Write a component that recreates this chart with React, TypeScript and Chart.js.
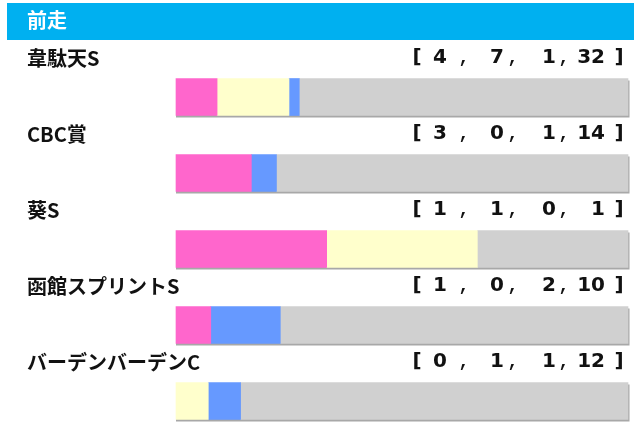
import { useEffect, useRef } from "react"
import Chart from "chart.js/auto"

// 前走レース別成績 [1着, 2着, 3着, 着外]
const races = ["韋駄天S", "CBC賞", "葵S", "函館スプリントS", "バーデンバーデンC"]
const firsts = [4, 3, 1, 1, 0]
const seconds = [7, 0, 1, 0, 1]
const thirds = [1, 1, 0, 2, 1]
const others = [32, 14, 1, 10, 12]
const title = "前走"

const colors = ["#FF66CC", "#FFFFCC", "#6699FF", "#D0D0D0"]
const seriesNames = ["1着", "2着", "3着", "着外"]

const totals = races.map((_, i) => firsts[i] + seconds[i] + thirds[i] + others[i])
// zero counts -> null so no hairline bar gets drawn
const pct = (arr: number[]) => arr.map((v, i) => (v ? (v / totals[i]) * 100 : null))

const labelPlugin = {
  id: "raceLabels",
  beforeDatasetsDraw(chart: any) {
    const { ctx, scales } = chart
    const x = scales.x
    ctx.save()
    // header band
    ctx.fillStyle = "#00B0F0"
    ctx.fillRect(7, 3, 627, 37)
    ctx.fillStyle = "#FFFFFF"
    ctx.font = "bold 20px 'Noto Sans CJK JP'"
    ctx.textBaseline = "middle"
    ctx.textAlign = "left"
    ctx.fillText(title, 27, 20)

    // bar shadows
    const meta = chart.getDatasetMeta(3)
    meta.data.forEach((bar: any) => {
      const h = bar.height
      ctx.fillStyle = "#A8A8A8"
      ctx.fillRect(x.left, bar.y - h / 2 + 2, x.right - x.left + 1.5, h)
    })

    races.forEach((name, i) => {
      const cy = scales.y.getPixelForValue(i)
      ctx.fillStyle = "#111111"
      ctx.textBaseline = "alphabetic"
      ctx.textAlign = "left"
      ctx.font = "bold 20px 'Noto Sans CJK JP'"
      ctx.fillText(name, 27, cy - 31)

      const vals = [firsts[i], seconds[i], thirds[i], others[i]]
      const by = cy - 34
      ctx.font = "bold 20px 'DejaVu Sans'"
      ctx.textAlign = "center"
      ctx.fillText("[", 417, by)
      ctx.fillText("]", 619, by)
      ctx.font = "bold 18px 'Liberation Mono'"
      ;[464, 513, 564].forEach((cx) => ctx.fillText(",", cx, by))
      ctx.font = "bold 20px 'DejaVu Sans'"
      ctx.textAlign = "right"
      ;[447, 504, 556, 605].forEach((rx, k) => ctx.fillText(String(vals[k]), rx, by))
    })
    ctx.restore()
  },
}

export default function App() {
  const chartRef = useRef<HTMLCanvasElement>(null)
  const chartInstance = useRef<Chart | null>(null)

  useEffect(() => {
    if (!chartRef.current) return
    if (chartInstance.current) chartInstance.current.destroy()
    const ctx = chartRef.current.getContext("2d")
    if (!ctx) return

    const series = [firsts, seconds, thirds, others]
    chartInstance.current = new Chart(ctx, {
      type: "bar",
      data: {
        labels: races,
        datasets: series.map((s, k) => ({
          label: seriesNames[k],
          data: pct(s),
          backgroundColor: colors[k],
          borderWidth: 0,
          barThickness: 37,
          clip: false as any,
        })),
      },
      options: {
        indexAxis: "y",
        animation: false,
        responsive: true,
        maintainAspectRatio: false,
        layout: { padding: { left: 176, right: 12, top: 97, bottom: 25 } },
        scales: {
          x: { stacked: true, min: 0, max: 100, display: false },
          y: { stacked: true, offset: false, display: false },
        },
        plugins: {
          legend: { display: false },
          tooltip: { enabled: false },
        },
      },
      plugins: [labelPlugin],
    })

    return () => {
      if (chartInstance.current) {
        chartInstance.current.destroy()
        chartInstance.current = null
      }
    }
  }, [])

  return (
    <div style={{ position: "fixed", left: 0, top: 0, width: 640, height: 426, background: "#fff" }}>
      <canvas ref={chartRef} />
    </div>
  )
}
